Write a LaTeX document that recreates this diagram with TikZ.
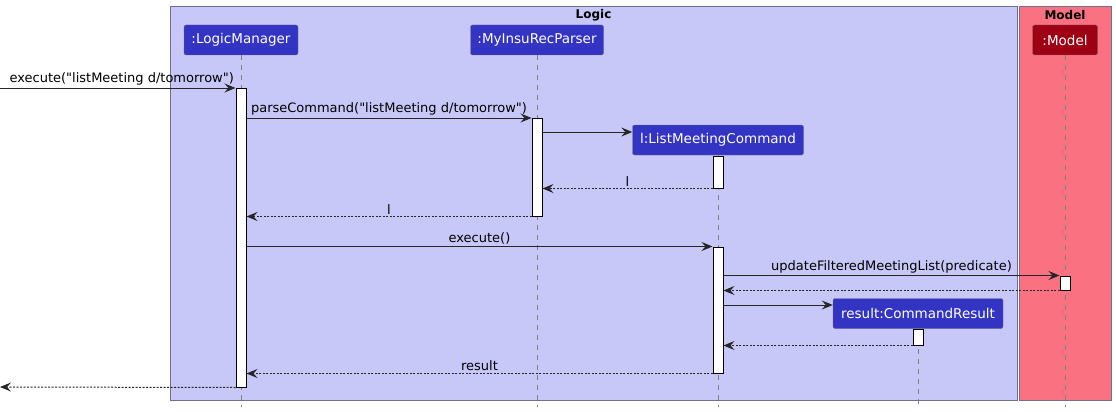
\documentclass[tikz,border=0pt]{standalone}
\usepackage{fontspec}
\setmainfont{DejaVu Sans}[Ligatures=TeXOff]
\usetikzlibrary{arrows.meta,calc}
\definecolor{logicbg}{RGB}{200,200,248}
\definecolor{modelbg}{RGB}{250,114,130}
\definecolor{logicpart}{RGB}{51,51,196}
\definecolor{modelpart}{RGB}{158,0,20}
\definecolor{framegray}{RGB}{112,112,140}
\tikzset{
  part/.style={draw=black!55, rounded corners=2pt, text=white, minimum height=30pt,
    inner xsep=2pt, font=\fontsize{13.5}{16}\selectfont},
  bar/.style={draw=black, fill=white, line width=1pt, minimum width=10pt, inner sep=0pt},
  life/.style={draw=black!50, line width=1pt, dash pattern=on 5pt off 5pt},
  msg/.style={draw=black!85, line width=1pt, -{Stealth[length=11pt,width=9pt,inset=4pt]}},
  ret/.style={msg, dash pattern=on 2pt off 1.5pt},
  lbl/.style={above=2pt, inner sep=0pt, font=\fontsize{13}{15}\selectfont},
  grouptitle/.style={inner sep=0pt, font=\bfseries\fontsize{12}{14}\selectfont}
}
\begin{document}
\begin{tikzpicture}[x=1pt, y=-1pt]
  \useasboundingbox (0,0) rectangle (1116,412);
  \draw[framegray, fill=logicbg] (170,6) rectangle (1017,400);
  \draw[framegray, fill=modelbg] (1019,6) rectangle (1111,400);
  \node[grouptitle] (logictitle) at (593.5,15) {Logic};
  \node[grouptitle] (modeltitle) at (1065,15) {Model};

  \node[part, fill=logicpart, minimum width=114pt] (lm) at (241,40) {:LogicManager};
  \node[part, fill=logicpart, minimum width=133pt] (ps) at (537,40) {:MyInsuRecParser};
  \node[part, fill=logicpart, minimum width=171pt] (lc) at (718,140) {l:ListMeetingCommand};
  \node[part, fill=modelpart, minimum width=65pt] (md) at (1065,40) {:Model};
  \node[part, fill=logicpart, minimum width=170pt] (cr) at (918,313.5) {result:CommandResult};

  \foreach \p in {lm,ps,lc,md,cr}
    \draw[life] (\p.south) -- (\p.south |- 0,407);

  \node[bar, minimum height=299pt] (lmA) at (241,237.5) {};
  \node[bar, minimum height=98pt] (psA) at (537,167) {};
  \node[bar, minimum height=32pt] (lcA) at (718,172) {};
  \node[bar, minimum height=126pt] (lcB) at (718,310) {};
  \node[bar, minimum height=14pt] (mdA) at (1065,283) {};
  \node[bar, minimum height=16pt] (crA) at (918,337) {};

  \coordinate (in) at (0,88);
  \coordinate (out) at (0,387);
  \draw[msg] (in) -- node[lbl, xshift=4pt] {execute("listMeeting d/tomorrow")} (lmA.west |- in);
  \draw[msg] (lmA.east |- 0,118) -- node[lbl] {parseCommand("listMeeting d/tomorrow")} (psA.west |- 0,118);
  \draw[msg] (psA.east |- 0,132) -- (lc.west |- 0,132);
  \draw[ret] (lcA.south west) -- node[lbl] {l} (psA.east |- lcA.south);
  \draw[ret] (psA.south west) -- node[lbl] {l} (lmA.east |- psA.south);
  \draw[msg] (lmA.east |- lcB.north) -- node[lbl] {execute()} (lcB.north west);
  \draw[msg] (lcB.east |- mdA.north) -- node[lbl] {updateFilteredMeetingList(predicate)} (mdA.north west);
  \draw[ret] (mdA.south west) -- (lcB.east |- mdA.south);
  \draw[msg] (lcB.east |- 0,305) -- (cr.west |- 0,305);
  \draw[ret] (crA.south west) -- (lcB.east |- crA.south);
  \draw[ret] (lcB.south west) -- node[lbl] {result} (lmA.east |- lcB.south);
  \draw[ret] (lmA.south west) -- (out);
\end{tikzpicture}
\end{document}
